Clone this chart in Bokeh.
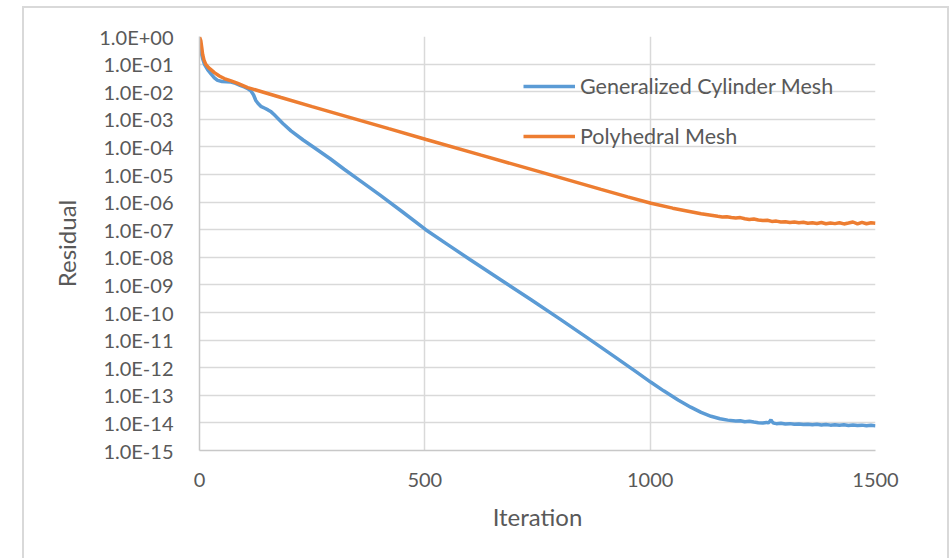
from bokeh.plotting import figure
from bokeh.models import (FixedTicker, CustomJSTickFormatter, Legend, LegendItem,
                          Range1d, InlineStyleSheet)
from bokeh.embed import file_html
from bokeh.resources import INLINE

# ---------------- data ----------------
gc_iter = [0, 3, 7, 11, 18, 26, 33, 40, 50, 60, 70, 80, 90, 99, 106, 114, 120, 125,
           130, 136, 145, 152, 159, 166, 173, 185, 203, 230, 255, 290, 321, 360, 400,
           450, 502, 550, 600, 669, 735, 800, 860, 920, 970, 1001, 1030, 1062, 1090,
           1113, 1135, 1155, 1172, 1190, 1200, 1210, 1220, 1230, 1240, 1250, 1258,
           1262, 1266, 1268, 1270, 1274, 1280, 1290, 1300, 1310, 1320, 1330, 1340,
           1350, 1360, 1370, 1380, 1390, 1400, 1410, 1420, 1430, 1440, 1450, 1460,
           1470, 1480, 1490, 1500]
gc_res = [0.8, 0.295, 0.158, 0.098, 0.063, 0.043, 0.0316, 0.0257, 0.0234, 0.0229,
          0.0224, 0.0200, 0.0170, 0.0148, 0.0132, 0.0107, 7.59e-3, 4.79e-3, 3.72e-3,
          2.95e-3, 2.51e-3, 2.19e-3, 1.86e-3, 1.45e-3, 1.12e-3, 7.08e-4, 3.80e-4,
          1.78e-4, 9.33e-5, 3.72e-5, 1.55e-5, 5.37e-6, 1.82e-6, 4.47e-7, 1.0e-7,
          2.95e-8, 8.32e-9, 1.51e-9, 2.95e-10, 5.75e-11, 1.23e-11, 2.57e-12,
          6.92e-13, 3.02e-13, 1.45e-13, 6.76e-14, 3.72e-14, 2.40e-14, 1.74e-14,
          1.41e-14, 1.26e-14, 1.17e-14, 1.20e-14, 1.10e-14, 1.14e-14, 1.07e-14,
          1.02e-14, 1.00e-14, 1.04e-14, 1.00e-14, 1.15e-14, 1.30e-14, 1.12e-14,
          9.8e-15, 9.4e-15, 9.7e-15, 9.1e-15, 9.4e-15, 8.9e-15, 9.2e-15, 8.7e-15,
          9.0e-15, 8.6e-15, 8.9e-15, 8.4e-15, 8.7e-15, 8.3e-15, 8.6e-15, 8.2e-15,
          8.5e-15, 8.1e-15, 8.4e-15, 8.0e-15, 8.3e-15, 7.9e-15, 8.2e-15, 7.8e-15]

poly_iter = [0, 3, 5, 7, 10, 14, 20, 26, 33, 44, 55, 70, 85, 107, 140, 181, 250, 329,
             420, 503, 625, 750, 891, 950, 1002, 1050, 1113, 1150, 1160, 1170, 1180,
             1190, 1200, 1210, 1220, 1230, 1240, 1250, 1260, 1270, 1280, 1290, 1300,
             1310, 1320, 1330, 1340, 1350, 1360, 1370, 1380, 1390, 1400, 1410, 1420,
             1430, 1440, 1450, 1460, 1470, 1480, 1490, 1500]
poly_res = [0.95, 0.69, 0.40, 0.224, 0.14, 0.098, 0.075, 0.062, 0.049, 0.037, 0.030,
            0.0245, 0.0200, 0.0141, 9.77e-3, 6.17e-3, 2.88e-3, 1.23e-3, 4.57e-4,
            1.86e-4, 5.01e-5, 1.32e-5, 2.88e-6, 1.55e-6, 9.12e-7, 6.03e-7, 3.80e-7,
            3.05e-7, 2.9e-7, 2.95e-7, 2.75e-7, 2.65e-7, 2.75e-7, 2.5e-7, 2.35e-7,
            2.45e-7, 2.25e-7, 2.15e-7, 2.2e-7, 2.0e-7, 2.05e-7, 1.9e-7, 1.95e-7,
            1.82e-7, 1.9e-7, 1.78e-7, 1.85e-7, 1.72e-7, 1.8e-7, 1.68e-7, 1.82e-7,
            1.65e-7, 1.75e-7, 1.66e-7, 1.78e-7, 1.62e-7, 1.75e-7, 1.9e-7, 1.62e-7,
            1.85e-7, 1.64e-7, 1.78e-7, 1.7e-7]

x_ticks = [0, 500, 1000, 1500]
y_ticks = [1e0, 1e-1, 1e-2, 1e-3, 1e-4, 1e-5, 1e-6, 1e-7, 1e-8, 1e-9, 1e-10,
           1e-11, 1e-12, 1e-13, 1e-14, 1e-15]

series_names = ["Generalized Cylinder Mesh", "Polyhedral Mesh"]
series_colors = ["#5B9BD5", "#ED7D31"]

FONT = "Lato"
TXT = "#595959"

p = figure(width=951, height=558, output_backend="svg", toolbar_location=None,
           y_axis_type="log", x_range=Range1d(0, 1500), y_range=Range1d(1e-15, 1),
           min_border_left=199, min_border_right=76, min_border_top=36,
           min_border_bottom=108)

p.outline_line_color = None
p.background_fill_color = "white"
p.border_fill_color = "white"

# axes
p.xaxis.ticker = FixedTicker(ticks=x_ticks)
p.yaxis.ticker = FixedTicker(ticks=y_ticks)
p.xgrid.ticker = FixedTicker(ticks=x_ticks)
p.ygrid.ticker = FixedTicker(ticks=y_ticks)
p.yaxis.formatter = CustomJSTickFormatter(code="""
const e = Math.round(Math.log10(tick));
const s = e < 0 ? "-" : "+";
const a = Math.abs(e);
return "1.0E" + s + (a < 10 ? "0" + a : "" + a);
""")

for ax in (p.xaxis, p.yaxis):
    ax.major_tick_line_color = None
    ax.minor_tick_line_color = None
    ax.axis_line_color = "#c8c8c8"
    ax.axis_line_width = 1.5
    ax.major_label_text_font = FONT
    ax.major_label_text_font_size = "20px"
    ax.major_label_text_color = TXT
    ax.axis_label_text_font = FONT
    ax.axis_label_text_font_size = "24px"
    ax.axis_label_text_font_style = "normal"
    ax.axis_label_text_color = TXT

p.xaxis.axis_label = "Iteration"
p.yaxis.axis_label = "Residual"
p.xaxis.major_label_standoff = 16
p.yaxis.major_label_standoff = 20
p.xaxis.axis_label_standoff = 12
p.yaxis.axis_label_standoff = 15

for g in (p.xgrid, p.ygrid):
    g.grid_line_color = "#d9d9d9"
    g.grid_line_width = 1.5

# series
r1 = p.line(gc_iter, gc_res, line_color=series_colors[0], line_width=3.5)
r2 = p.line(poly_iter, poly_res, line_color=series_colors[1], line_width=3.5)

legend = Legend(items=[LegendItem(label=series_names[0], renderers=[r1]),
                       LegendItem(label=series_names[1], renderers=[r2])],
                location=(324, 301), orientation="vertical",
                background_fill_alpha=0, border_line_color=None,
                padding=0, margin=0, spacing=24, glyph_width=52, glyph_height=24,
                label_height=24, label_standoff=5,
                label_text_font=FONT, label_text_font_size="21.5px",
                label_text_color=TXT)
p.add_layout(legend)

# chart-area border (top, left and right edges; bottom is outside the window)
p.stylesheets = [InlineStyleSheet(css="""
:host::after {
  content: "";
  position: absolute;
  left: 22px;
  top: 6px;
  width: 927px;
  height: 552px;
  border: 2px solid #d9d9d9;
  border-bottom: none;
  box-sizing: border-box;
  pointer-events: none;
}
""")]

open("out.html", "w").write(file_html(p, INLINE))
